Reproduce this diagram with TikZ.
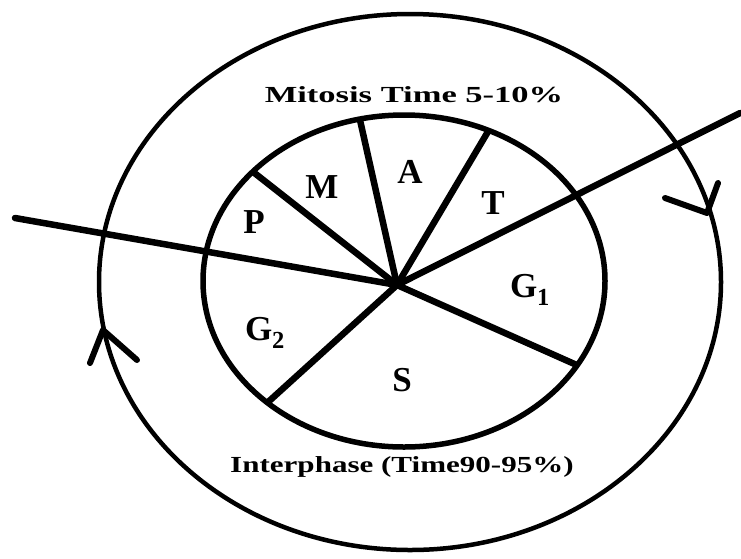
\documentclass[tikz,border=0pt]{standalone}
\usepackage{fontspec}
\setmainfont{Liberation Serif}
\newfontfamily\widefont[FakeStretch=1.5]{Liberation Serif}
\newfontfamily\midfont[FakeStretch=1.35]{Liberation Serif}
\begin{document}
\begin{tikzpicture}[x=1pt,y=-1pt,line cap=round,line join=round,
  ring/.style={line width=5.5pt},
  outerring/.style={line width=4.5pt},
  spoke/.style={line width=6.5pt},
  tip/.style={line width=6pt},
  phase/.style={font=\bfseries\fontsize{35}{35}\selectfont,inner sep=0pt},
  caption/.style={font=\widefont\bfseries\fontsize{23}{23}\selectfont,inner sep=0pt},
  caption2/.style={font=\midfont\bfseries\fontsize{23}{23}\selectfont,inner sep=0pt}]
\useasboundingbox (0,0) rectangle (741,558);
\coordinate (hub) at (397,285);
\coordinate (c) at (404,281);
\coordinate (oc) at (410,282);
% rings
\draw[ring] (c) ellipse [x radius=201pt, y radius=166pt];
\draw[outerring] (oc) ellipse [x radius=311pt, y radius=268pt];
% spokes inside inner ring
\coordinate (pm) at (187,120);
\coordinate (ma) at (341.5,37.5);
\coordinate (at) at (526,67.5);
\coordinate (gs) at (656.5,400.5);
\coordinate (sg) at (202,462);
\begin{scope}
  \clip (c) ellipse [x radius=201pt, y radius=166pt];
  \draw[spoke] (hub) -- (pm);
  \draw[spoke] (hub) -- (ma);
  \draw[spoke] (hub) -- (at);
  \draw[spoke] (hub) -- (gs);
  \draw[spoke] (hub) -- (sg);
\end{scope}
% long lines
\coordinate (lend) at (15,218);
\coordinate (rend) at (740,113);
\draw[spoke] (lend) -- (hub) -- (rend);
% arrowheads on outer ring
\coordinate (rtip) at (707,213);
\coordinate (ra1) at (665,198);
\coordinate (ra2) at (718,183);
\draw[tip] (ra1) -- (rtip) -- (ra2);
\coordinate (ltip) at (103,330);
\coordinate (la1) at (90,363);
\coordinate (la2) at (137,360);
\draw[tip] (la1) -- (ltip) -- (la2);
% labels
\node[caption] (mit) at (414,95) {Mitosis Time 5-10\%};
\node[caption2] (inter) at (402,467) {Interphase (Time90-95\%)};
\node[phase] (P) at (254,222) {P};
\node[phase] (M) at (322,187) {M};
\node[phase] (A) at (410,172) {A};
\node[phase] (T) at (493,203) {T};
\node[phase] (G1) at (530,290) {G$_{\mathbf 1}$};
\node[phase] (G2) at (265,333) {G$_{\mathbf 2}$};
\node[phase] (S) at (402,380) {S};
\end{tikzpicture}
\end{document}
